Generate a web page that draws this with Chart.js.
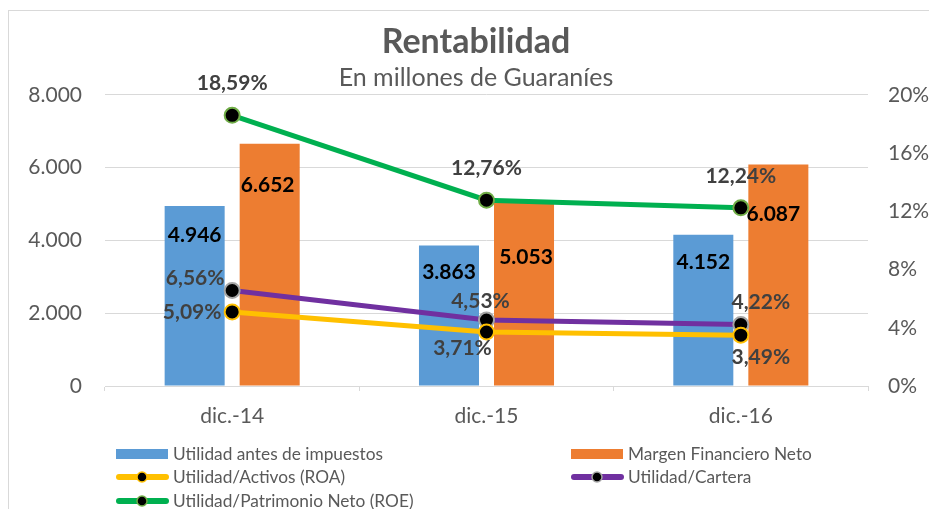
<!DOCTYPE html>
<html>
<head>
<meta charset="utf-8">
<script src="https://cdn.jsdelivr.net/npm/chart.js@4"></script>
<style>
  html, body { margin: 0; padding: 0; background: #fff; overflow: hidden; width: 929px; height: 509px; }
  #wrap { position: absolute; left: 8px; top: 10px; border-left: 1px solid #d9d9d9; border-top: 1px solid #d9d9d9; width: 934px; height: 498px; }
  canvas { display: block; }
</style>
</head>
<body>
<div id="wrap"><canvas id="c" width="934" height="498"></canvas></div>
<script>
// ---- data ----
const categories = ['dic.-14', 'dic.-15', 'dic.-16'];
const utilidadAntesImpuestos = [4946, 3863, 4152];
const margenFinancieroNeto = [6652, 5053, 6087];
const roaPct = [5.09, 3.71, 3.49];
const carteraPct = [6.56, 4.53, 4.22];
const roePct = [18.59, 12.76, 12.24];
const leftAxisTicks = [0, 2000, 4000, 6000, 8000];
const rightAxisTicks = [0, 4, 8, 12, 16, 20];

// ---- label placement (pixels relative to each mark) ----
const labelOffsets = {
  bar1: [[0, 29], [0, 27], [0, 27]],
  bar2: [[-2, 41], [2, 55], [-5, 50]],
  roa: [[-40, 0], [-24, 16], [20, 22]],
  cartera: [[-37, -12], [-6, -19], [20, -22]],
  roe: [[0, -32], [0, -32], [0, -32]]
};

const FONT = 'Lato, "Open Sans", sans-serif';
const GRAY = '#595959';

function fmtThousands(v) {
  return String(Math.round(v)).replace(/\B(?=(\d{3})+(?!\d))/g, '.');
}
function fmtPct(v) {
  return v.toFixed(2).replace('.', ',') + '%';
}

const dataLabelPlugin = {
  id: 'dataLabels',
  afterDatasetsDraw(chart) {
    const ctx = chart.ctx;
    ctx.save();
    ctx.textAlign = 'center';
    ctx.textBaseline = 'middle';
    chart.data.datasets.forEach((ds, di) => {
      const meta = chart.getDatasetMeta(di);
      const offs = labelOffsets[ds.key];
      meta.data.forEach((el, i) => {
        const v = ds.data[i];
        const text = ds.yAxisID === 'y' ? fmtThousands(v) : fmtPct(v);
        ctx.font = 'bold 21px ' + FONT;
        ctx.fillStyle = ds.type === 'bar' ? '#000000' : '#404040';
        ctx.fillText(text, el.x + offs[i][0], el.y + offs[i][1]);
      });
    });
    ctx.restore();
  }
};

const legendPlugin = {
  id: 'customLegend',
  afterDraw(chart) {
    const ctx = chart.ctx;
    const cols = [107, 562];
    const rows = [443, 466, 490];
    const order = [0, 1, 2, 3, 4];
    ctx.save();
    ctx.font = '17.3px ' + FONT;
    ctx.textBaseline = 'middle';
    ctx.textAlign = 'left';
    order.forEach((di, k) => {
      const ds = chart.data.datasets[di];
      const x = cols[k % 2];
      const y = rows[Math.floor(k / 2)];
      if (ds.type === 'bar') {
        ctx.fillStyle = ds.backgroundColor;
        ctx.fillRect(x, y - 5, 52, 10);
      } else {
        ctx.strokeStyle = ds.borderColor;
        ctx.lineWidth = 6;
        ctx.lineCap = 'round';
        ctx.beginPath();
        ctx.moveTo(x + 3, y);
        ctx.lineTo(x + 50, y);
        ctx.stroke();
        ctx.beginPath();
        ctx.arc(x + 26, y, 5, 0, Math.PI * 2);
        ctx.fillStyle = '#000';
        ctx.fill();
        ctx.lineWidth = 1.5;
        ctx.strokeStyle = ds.pointBorderColor;
        ctx.stroke();
      }
      ctx.fillStyle = GRAY;
      ctx.fillText(ds.label, x + 57, y);
    });
    ctx.restore();
  }
};

const lineCommon = {
  type: 'line',
  yAxisID: 'y1',
  borderWidth: 5,
  pointRadius: 7.5,
  pointHoverRadius: 7.5,
  pointBackgroundColor: '#000000',
  pointBorderWidth: 2,
  tension: 0,
  fill: false,
  order: 1
};

new Chart(document.getElementById('c'), {
  data: {
    labels: categories,
    datasets: [
      { key: 'bar1', type: 'bar', label: 'Utilidad antes de impuestos', data: utilidadAntesImpuestos,
        backgroundColor: '#5B9BD5', yAxisID: 'y', order: 2, barPercentage: 0.8, categoryPercentage: 0.59 },
      { key: 'bar2', type: 'bar', label: 'Margen Financiero Neto', data: margenFinancieroNeto,
        backgroundColor: '#ED7D31', yAxisID: 'y', order: 2, barPercentage: 0.8, categoryPercentage: 0.59 },
      Object.assign({}, lineCommon, { key: 'roa', label: 'Utilidad/Activos (ROA)', data: roaPct,
        borderColor: '#FFC000', pointBorderColor: '#FFC000' }),
      Object.assign({}, lineCommon, { key: 'cartera', label: 'Utilidad/Cartera', data: carteraPct,
        borderColor: '#7030A0', pointBorderColor: '#A5A5A5' }),
      Object.assign({}, lineCommon, { key: 'roe', label: 'Utilidad/Patrimonio Neto (ROE)', data: roePct,
        borderColor: '#00B050', pointBorderColor: '#70AD47' })
    ]
  },
  options: {
    responsive: false,
    animation: false,
    events: [],
    layout: { padding: { left: 0, right: 0, top: 0, bottom: 78 } },
    plugins: {
      legend: { display: false },
      tooltip: { enabled: false },
      title: {
        display: true, text: 'Rentabilidad', color: GRAY,
        font: { family: FONT, size: 34, weight: 'bold' },
        padding: { top: 11, bottom: 0 }
      },
      subtitle: {
        display: true, text: 'En millones de Guaraníes', color: GRAY,
        font: { family: FONT, size: 25 },
        padding: { top: 0, bottom: 2 }
      }
    },
    scales: {
      x: {
        grid: { display: true, drawOnChartArea: false, drawTicks: true, tickLength: 5, color: '#d9d9d9' },
        border: { display: true, color: '#d9d9d9' },
        ticks: { color: GRAY, font: { family: FONT, size: 21 }, padding: 13 },
        afterFit(s) { s.height = 45; }
      },
      y: {
        position: 'left', min: 0, max: 8000,
        afterBuildTicks(s) { s.ticks = leftAxisTicks.map(v => ({ value: v })); },
        grid: { color: '#d9d9d9', drawTicks: false },
        border: { display: false },
        ticks: { color: GRAY, font: { family: FONT, size: 21 }, padding: 23, callback: v => fmtThousands(v) },
        afterFit(s) { s.width = 96; }
      },
      y1: {
        position: 'right', min: 0, max: 20,
        afterBuildTicks(s) { s.ticks = rightAxisTicks.map(v => ({ value: v })); },
        grid: { display: false, drawTicks: false },
        border: { display: false },
        ticks: { color: GRAY, font: { family: FONT, size: 21 }, padding: 20, callback: v => v + '%' },
        afterFit(s) { s.width = 75; }
      }
    }
  },
  plugins: [dataLabelPlugin, legendPlugin]
});
</script>
</body>
</html>
